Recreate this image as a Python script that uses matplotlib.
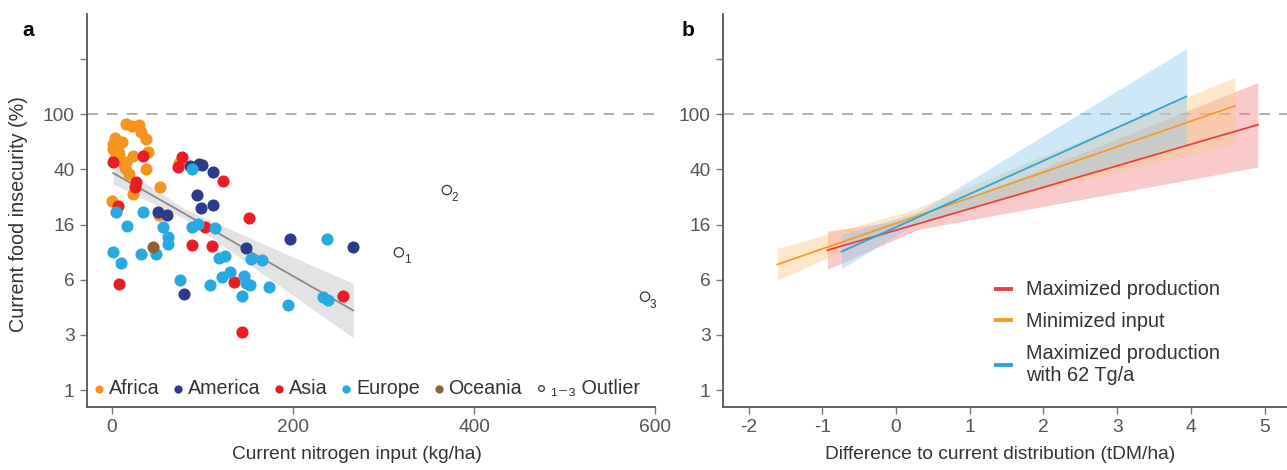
import numpy as np
import matplotlib.pyplot as plt
from matplotlib.lines import Line2D

plt.rcParams['font.family'] = ['Liberation Sans', 'DejaVu Sans']
plt.rcParams['axes.unicode_minus'] = False

# ---- panel a : countries ----
africa_x = [15.5, 21.8, 30.2, 31.7, 37.6, 3.3, 10.7, 1.4, 7.0, 40.1, 22.9, 3.3, 12.5,
            14.4, 37.6, 19.1, 53.0, 23.5, 0.0, 74.4, 52.3, 1.4, 8.0, 16.0]
africa_y = [83.2, 80.5, 81.9, 73.2, 64.1, 65.9, 61.7, 54.8, 53.3, 52.4, 48.6, 47.0, 43.4,
            39.7, 39.3, 36.1, 28.9, 25.9, 23.1, 43.4, 18.2, 59.0, 50.0, 44.0]
america_x = [86.0, 96.0, 100.0, 111.9, 93.6, 98.3, 111.2, 51.2, 60.4, 148.1, 197.0, 266.6, 79.6]
america_y = [41.5, 42.7, 42.3, 37.2, 25.5, 20.4, 21.5, 19.3, 18.2, 10.5, 12.2, 10.8, 4.96]
asia_x = [34.6, 1.4, 26.5, 25.4, 7.0, 77.0, 73.0, 123.0, 151.7, 102.8, 88.4, 110.5,
          8.1, 134.5, 254.9, 143.3]
asia_y = [49.1, 44.4, 31.8, 28.9, 21.3, 47.8, 40.5, 32.0, 17.3, 15.1, 11.1, 10.9,
          5.86, 5.99, 4.80, 2.61]
europe_x = [4.5, 34.6, 16.2, 56.0, 62.2, 62.2, 88.1, 95.4, 113.8, 1.4, 31.7, 48.6, 9.6,
            118.2, 125.4, 154.1, 166.3, 75.1, 121.2, 130.4, 146.4, 148.1, 152.5, 173.5,
            108.8, 143.3, 194.8, 233.5, 239.0, 237.2, 88.0]
europe_y = [19.2, 19.2, 15.3, 15.1, 12.6, 11.4, 14.9, 15.7, 14.8, 9.89, 9.62, 9.51, 8.19,
            8.9, 9.3, 8.8, 8.6, 6.2, 6.5, 7.08, 6.7, 5.93, 5.76, 5.5,
            5.7, 4.77, 4.08, 4.67, 4.49, 12.2, 39.0]
oceania_x = [45.0]
oceania_y = [10.8]
outlier_x = [317, 370, 589]
outlier_y = [9.84, 27.7, 4.72]
outlier_id = ['1', '2', '3']

# regression line and its band (read at a few x positions)
fit_x = [1.4, 79.6, 150.0, 266.6]
fit_y = [36.7, 18.8, 10.2, 3.75]
fit_lo = [30.6, 17.3, 8.2, 2.38]
fit_hi = [44.2, 20.4, 12.7, 5.87]

# ---- panel b : scenarios ----
scen_names = ['Maximized production', 'Minimized input', 'Maximized production\nwith 62 Tg/a']
scen_x = [[-0.93, 0.3, 4.91],
          [-1.61, 0.2, 4.60],
          [-0.74, 0.3, 3.94]]
scen_y = [[10.2, 15.8, 81.9],
          [8.05, 18.1, 112.0],
          [9.95, 17.7, 131.0]]
scen_lo = [[7.43, 14.4, 40.6],
           [6.2, 16.5, 60.0],
           [7.5, 16.3, 60.0]]
scen_hi = [[14.0, 17.4, 165.0],
           [10.5, 19.7, 180.0],
           [13.2, 19.2, 290.0]]

y_ticks = [1, 2.5, 6.25, 15.625, 39.0625, 97.65625, 244.140625]
y_labels = ['1', '3', '6', '16', '40', '100', '']

c_africa = '#F7941D'
c_america = '#2E3A8C'
c_asia = '#EC1C24'
c_europe = '#27AAE1'
c_oceania = '#8C6239'
scen_line = ['#E8423F', '#F39A2B', '#2FA3D8']
scen_fill = ['#F08A8A', '#FBC98A', '#92CEEC']

spine_c = '#555555'
tick_c = '#555555'
label_c = '#333333'

fig = plt.figure(figsize=(12.87, 4.70), dpi=100)
ax1 = fig.add_axes([87 / 1287, 63 / 470, 568 / 1287, 393 / 470])
ax2 = fig.add_axes([723 / 1287, 63 / 470, 564 / 1287, 393 / 470])


def style_axis(ax):
    ax.set_yscale('log')
    ax.set_ylim(0.755, 515)
    ax.set_yticks(y_ticks)
    ax.set_yticklabels(y_labels)
    ax.minorticks_off()
    for s in ['top', 'right']:
        ax.spines[s].set_visible(False)
    for s in ['left', 'bottom']:
        ax.spines[s].set_color(spine_c)
        ax.spines[s].set_linewidth(1.3)
    ax.tick_params(direction='out', length=5, width=1, color='#777777',
                   labelcolor=tick_c, labelsize=13.8, pad=4)
    ax.axhline(y_ticks[5], color='#A8A8A8', lw=1.3, ls=(0, (6, 5)), zorder=0)


style_axis(ax1)
style_axis(ax2)

# panel a
ax1.fill_between(fit_x, fit_lo, fit_hi, color='#E3E3E3', lw=0, zorder=1)
ax1.plot(fit_x, fit_y, color='#8A8A8A', lw=1.3, zorder=2)

ms = 76
ax1.scatter(africa_x, africa_y, s=ms, color=c_africa, lw=0, zorder=3, label='Africa')
ax1.scatter(america_x, america_y, s=ms, color=c_america, lw=0, zorder=3, label='America')
ax1.scatter(asia_x, asia_y, s=ms, color=c_asia, lw=0, zorder=3, label='Asia')
ax1.scatter(europe_x, europe_y, s=ms, color=c_europe, lw=0, zorder=3, label='Europe')
ax1.scatter(oceania_x, oceania_y, s=ms, color=c_oceania, lw=0, zorder=3, label='Oceania')
ax1.scatter(outlier_x, outlier_y, s=45, facecolor='none', edgecolor='#333333', lw=0.9,
            zorder=3)
for ox, oy, oid in zip(outlier_x, outlier_y, outlier_id):
    ax1.annotate(oid, (ox, oy), xytext=(3.5, -8), textcoords='offset points',
                 fontsize=8.5, color='#333333')

handles, labels = ax1.get_legend_handles_labels()
handles.append(Line2D([], [], ls='none', marker='o', markersize=6, markerfacecolor='none',
                      markeredgecolor='#333333', markeredgewidth=0.9))
labels.append('\u2081\u208b\u2083 Outlier')
ax1.legend(handles, labels, loc='center left', bbox_to_anchor=(0.005, 0.046), ncol=6,
           frameon=False, fontsize=14.2, handletextpad=0.05, columnspacing=0.5,
           handlelength=0.9, borderpad=0, borderaxespad=0, markerscale=0.68,
           labelcolor=label_c)

ax1.set_xlim(-27.6, 600)
ax1.set_xticks([0, 200, 400, 600])
ax1.set_xlabel('Current nitrogen input (kg/ha)', fontsize=13.8, color=label_c)
ax1.xaxis.set_label_coords((357 - 87) / 568, -0.1)
ax1.set_ylabel('Current food insecurity (%)', fontsize=14.2, color=label_c)
ax1.yaxis.set_label_coords(-0.104, 0.49)

# panel b
for i in range(3):
    ax2.fill_between(scen_x[i], scen_lo[i], scen_hi[i], color=scen_fill[i], alpha=0.45,
                     lw=0, zorder=1)
for i in range(3):
    ax2.plot([scen_x[i][0], scen_x[i][-1]], [scen_y[i][0], scen_y[i][-1]],
             color=scen_line[i], lw=1.3, zorder=2)

leg_handles = [Line2D([], [], color=c, lw=2.8) for c in scen_line]
ax2.legend(leg_handles, scen_names, loc='upper left', bbox_to_anchor=(0.484, 0.322),
           frameon=False, fontsize=14.3, handlelength=0.75, handletextpad=0.75,
           labelspacing=0.65, borderpad=0, borderaxespad=0, labelcolor=label_c)

ax2.set_xlim(-2.347, 5.305)
ax2.set_xticks([-2, -1, 0, 1, 2, 3, 4, 5])
ax2.set_xlabel('Difference to current distribution (tDM/ha)', fontsize=13.8, color=label_c)
ax2.xaxis.set_label_coords((1000 - 723) / 564, -0.1)

fig.text(22 / 1287, 1 - 30 / 470, 'a', fontsize=15, fontweight='bold', va='center')
fig.text(682 / 1287, 1 - 30 / 470, 'b', fontsize=15, fontweight='bold', va='center')

fig.savefig('out.png', dpi=100)
